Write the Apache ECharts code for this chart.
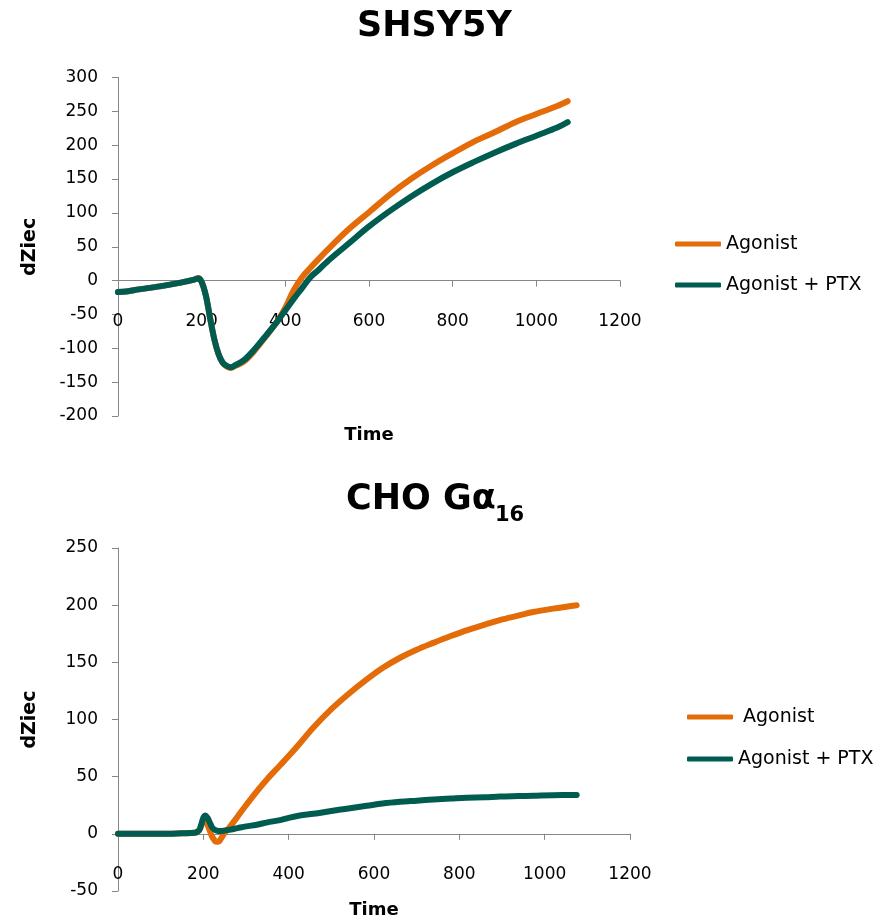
<!DOCTYPE html>
<html>
<head>
<meta charset="utf-8">
<script src="https://cdn.jsdelivr.net/npm/echarts@6/dist/echarts.min.js"></script>
<style>
  html, body { margin: 0; padding: 0; background: #fff; }
  #chart { width: 885px; height: 922px; }
</style>
</head>
<body>
<div id="chart"></div>
<script>
// SHSY5Y impedance trace (time in s, dZiec)
const shTime = [0, 20, 50, 100, 150, 180, 192, 200, 210, 220, 230, 240, 250, 260, 270, 280, 300, 320, 350, 380, 400, 420, 440, 460, 480, 500, 550, 600, 650, 700, 750, 800, 850, 900, 950, 1000, 1050, 1075];
const shAgonist = [-17, -16, -13, -8.5, -3, 1, 4, -2, -22, -55, -86, -108, -121, -127, -129, -126, -120, -108, -85, -61, -40, -14, 5, 19, 32, 45, 75, 101, 127, 150, 170, 188, 205, 219, 234, 246, 258, 265];
const shAgonistPTX = [-17, -16, -13, -8.5, -3, 1, 3, -2, -22, -55, -86, -108, -121, -126, -128, -125, -118, -106, -84, -61, -44, -27, -11, 5, 16, 28, 54, 80, 103, 124, 143, 160, 175, 189, 202, 214, 226, 234];

// CHO Gα16 impedance trace
const choTime = [0, 50, 100, 150, 180, 190, 195, 200, 205, 210, 215, 220, 225, 230, 235, 240, 245, 250, 260, 280, 300, 325, 350, 380, 400, 426, 458, 500, 536, 583, 620, 661, 700, 739, 780, 817, 860, 895, 940, 973, 1020, 1075];
const choAgonist = [0, 0, 0, 0.5, 1, 3, 7, 10, 11, 8, 3, -2, -5, -7, -7, -5, -2, 1, 5, 15, 25, 37, 48, 60, 68, 79, 93, 109, 121, 135, 145, 154, 161, 167, 173, 178, 183, 187, 191, 194, 197, 200];
const choAgonistPTX = [0, 0, 0, 0.5, 1, 3, 8, 14, 16, 14, 10, 6, 4, 3, 2.5, 2.5, 2.5, 3, 3.5, 5, 6.5, 8, 10, 12, 14, 16, 17.5, 20, 22, 24.5, 26.5, 28, 29, 30, 30.8, 31.5, 32, 32.6, 33, 33.3, 33.8, 34];

// Axis ranges and tick steps
const xTicks = { min: 0, max: 1200, interval: 200 };
const shY = { min: -200, max: 300, interval: 50 };
const choY = { min: -50, max: 250, interval: 50 };

const seriesNames = ['Agonist', 'Agonist + PTX'];
const ORANGE = '#E36C09';
const TEAL = '#005C50';
const FONT = 'DejaVu Sans';
const axisGray = '#868686';

// Plot areas
const plots = [
  { left: 118, top: 77.5, width: 502, height: 338.5, y: shY },
  { left: 118, top: 548, width: 512, height: 343, y: choY }
];

function pairs(xs, ys) { return xs.map((x, i) => [x, ys[i]]); }
const plain = v => String(v);

// The time axis is drawn across the zero level of each plot: a strip grid
// spanning from the plot top down to the y = 0 line carries the visible axis.
function stripGrid(p) {
  const frac = p.y.max / (p.y.max - p.y.min);
  return { left: p.left, top: p.top, width: p.width, height: p.height * frac };
}

const grids = plots.map(p => ({ left: p.left, top: p.top, width: p.width, height: p.height }))
  .concat(plots.map(stripGrid));

// hidden data x axes (carry only the "Time" title under each plot)
function dataXAxis(grid) {
  return {
    type: 'value', gridIndex: grid,
    min: xTicks.min, max: xTicks.max, interval: xTicks.interval,
    name: 'Time', nameLocation: 'middle', nameGap: 10,
    nameTextStyle: { fontFamily: FONT, fontWeight: 'bold', fontSize: 18, color: '#000', verticalAlign: 'top' },
    axisLine: { show: false }, axisTick: { show: false }, axisLabel: { show: false },
    splitLine: { show: false }
  };
}
// visible time axis sitting on the zero line
function zeroXAxis(grid) {
  return {
    type: 'value', gridIndex: grid, position: 'bottom',
    min: xTicks.min, max: xTicks.max, interval: xTicks.interval,
    axisLine: { show: true, onZero: false, lineStyle: { color: axisGray, width: 1 } },
    axisTick: { show: true, length: 6, lineStyle: { color: axisGray } },
    axisLabel: { margin: 32, fontFamily: FONT, fontSize: 17, color: '#000', formatter: plain },
    splitLine: { show: false }
  };
}
function dataYAxis(grid, r) {
  return {
    type: 'value', gridIndex: grid,
    min: r.min, max: r.max, interval: r.interval,
    name: 'dZiec', nameLocation: 'middle', nameGap: 78, nameRotate: 90,
    nameTextStyle: { fontFamily: FONT, fontWeight: 'bold', fontSize: 19, color: '#000' },
    axisLine: { show: true, onZero: false, lineStyle: { color: axisGray, width: 1 } },
    axisTick: { show: true, length: 6, lineStyle: { color: axisGray } },
    axisLabel: { margin: 20, fontFamily: FONT, fontSize: 17, color: '#000', formatter: plain },
    splitLine: { show: false }
  };
}
function stripYAxis(grid) {
  return { type: 'value', gridIndex: grid, min: 0, max: 1, show: false };
}
function lineSeries(name, color, x, y, grid) {
  return {
    name: name, type: 'line', xAxisIndex: grid, yAxisIndex: grid,
    data: pairs(x, y), showSymbol: false, smooth: 0.35,
    lineStyle: { color: color, width: 6, cap: 'round', join: 'round' },
    itemStyle: { color: color }, z: name === seriesNames[0] ? 2 : 3
  };
}
function legendFor(left, top, gap, firstPad) {
  return {
    orient: 'vertical', left: left, top: top, itemGap: gap,
    itemWidth: 46, itemHeight: 5, icon: 'roundRect', selectedMode: false,
    textStyle: { fontFamily: FONT, fontSize: 19, color: '#000', lineHeight: 20 },
    data: [
      { name: seriesNames[0], textStyle: { padding: [0, 0, 0, firstPad] } },
      { name: seriesNames[1] }
    ]
  };
}

const titleStyle = { fontFamily: FONT, fontWeight: 'bold', fontSize: 35, color: '#000' };

const chart = echarts.init(document.getElementById('chart'), null, { renderer: 'canvas' });
chart.setOption({
  backgroundColor: '#fff',
  animation: false,
  title: [
    { text: 'SHSY5Y', left: 352, top: 4, textStyle: titleStyle },
    { text: 'CHO Gα', left: 341, top: 477, textStyle: titleStyle },
    // subscript of Gα16
    { text: '16', left: 490, top: 500,
      textStyle: { fontFamily: FONT, fontWeight: 'bold', fontSize: 21, color: '#000' } }
  ],
  legend: [legendFor(670, 229, 21, 0), legendFor(682, 702, 22, 5)],
  grid: grids,
  xAxis: [dataXAxis(0), dataXAxis(1), zeroXAxis(2), zeroXAxis(3)],
  yAxis: [dataYAxis(0, shY), dataYAxis(1, choY), stripYAxis(2), stripYAxis(3)],
  series: [
    lineSeries(seriesNames[0], ORANGE, shTime, shAgonist, 0),
    lineSeries(seriesNames[1], TEAL, shTime, shAgonistPTX, 0),
    lineSeries(seriesNames[0], ORANGE, choTime, choAgonist, 1),
    lineSeries(seriesNames[1], TEAL, choTime, choAgonistPTX, 1)
  ]
});
</script>
</body>
</html>
